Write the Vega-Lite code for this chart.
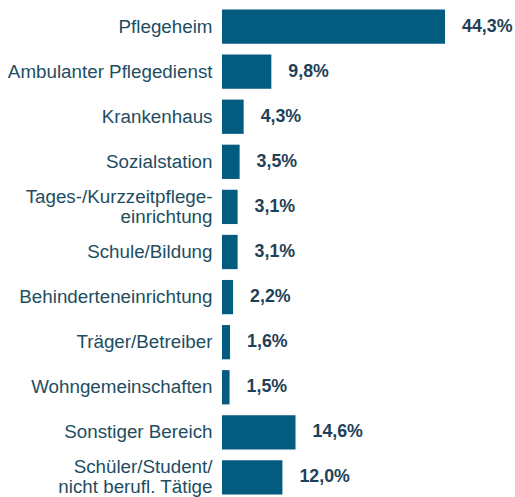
{
  "$schema": "https://vega.github.io/schema/vega-lite/v6.json",
  "width": 292,
  "height": 496,
  "autosize": {"type": "none"},
  "padding": {"left": 222, "top": 4, "right": 0, "bottom": 0},
  "config": {
    "view": {"stroke": null},
    "locale": {"number": {"decimal": ",", "thousands": ".", "grouping": [3], "currency": ["", " €"]}},
    "font": "Liberation Sans"
  },
  "data": {
    "values": [
      {"bereich": "Pflegeheim", "anteil": 0.443},
      {"bereich": "Ambulanter Pflegedienst", "anteil": 0.098},
      {"bereich": "Krankenhaus", "anteil": 0.043},
      {"bereich": "Sozialstation", "anteil": 0.035},
      {"bereich": "Tages-/Kurzzeitpflege-|einrichtung", "anteil": 0.031},
      {"bereich": "Schule/Bildung", "anteil": 0.031},
      {"bereich": "Behinderteneinrichtung", "anteil": 0.022},
      {"bereich": "Träger/Betreiber", "anteil": 0.016},
      {"bereich": "Wohngemeinschaften", "anteil": 0.015},
      {"bereich": "Sonstiger Bereich", "anteil": 0.146},
      {"bereich": "Schüler/Student/|nicht berufl. Tätige", "anteil": 0.12}
    ]
  },
  "encoding": {
    "y": {
      "field": "bereich",
      "type": "nominal",
      "sort": null,
      "scale": {"paddingInner": 0.24, "paddingOuter": 0.12},
      "axis": {
        "title": null,
        "ticks": false,
        "domain": false,
        "labelExpr": "split(datum.label, '|')",
        "labelFontSize": 18.8,
        "labelColor": "#1e4d62",
        "labelPadding": 10,
        "labelLineHeight": 20,
        "labelLimit": 300,
        "labelOffset": {"condition": {"test": "indexof(datum.value, '|') >= 0", "value": -10}, "value": 0}
      }
    },
    "x": {
      "field": "anteil",
      "type": "quantitative",
      "scale": {"domain": [0, 0.58]},
      "axis": null
    }
  },
  "layer": [
    {"mark": {"type": "bar", "color": "#035b80"}},
    {
      "mark": {"type": "text", "align": "left", "dx": 17, "fontSize": 17.8, "fontWeight": "bold", "color": "#1f4157"},
      "encoding": {"text": {"field": "anteil", "type": "quantitative", "format": ".1%"}}
    }
  ]
}
